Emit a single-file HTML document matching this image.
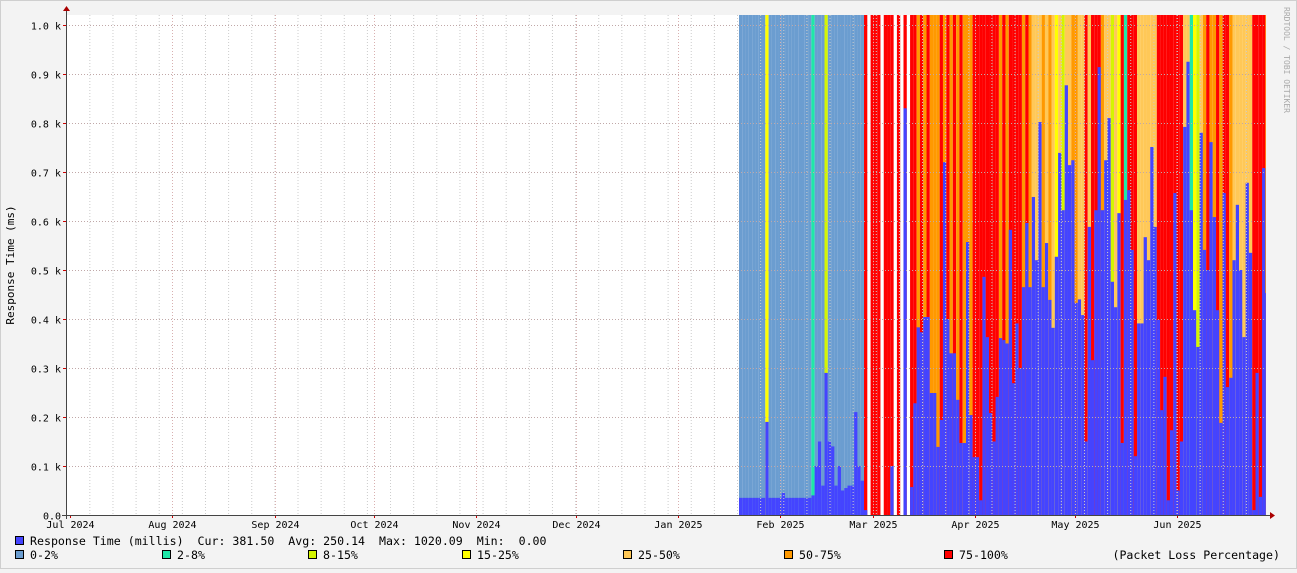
<!DOCTYPE html>
<html><head><meta charset="utf-8"><style>
html,body{margin:0;padding:0;background:#f3f3f3;}
body{width:1297px;height:569px;overflow:hidden;position:relative;font-family:"DejaVu Sans Mono","Liberation Mono",monospace;}
svg text{font-family:"DejaVu Sans Mono","Liberation Mono",monospace;white-space:pre;}
</style></head><body>
<svg id="chart" width="1297" height="569" xmlns="http://www.w3.org/2000/svg">
<rect x="0.5" y="0.5" width="1296" height="568" fill="#f3f3f3" stroke="#cfcfcf"/>
<rect x="66" y="15" width="1200" height="500" fill="#ffffff"/>
<g id="bars"></g>
<g id="grid"></g>
<g id="axes"></g>
<text x="14" y="265" font-size="11" text-anchor="middle" transform="rotate(-90 14 265)" fill="#000">Response Time (ms)</text>
<text x="1284" y="60" font-size="8" text-anchor="middle" transform="rotate(90 1284 60)" fill="#aaa">RRDTOOL / TOBI OETIKER</text>
<g id="legend"></g>
</svg>
<script>
const monthLabels=["Jul 2024","Aug 2024","Sep 2024","Oct 2024","Nov 2024","Dec 2024","Jan 2025","Feb 2025","Mar 2025","Apr 2025","May 2025","Jun 2025"];
const monthStartDays=[0,31,62,92,123,153,184,215,243,274,304,335];
const yTicks=[0,100,200,300,400,500,600,700,800,900,1000];
const yTickLabels=["0.0","0.1 k","0.2 k","0.3 k","0.4 k","0.5 k","0.6 k","0.7 k","0.8 k","0.9 k","1.0 k"];
const dataStartDay=202.45;
const dataDayStep=0.9956;
const responseMs=[35,35,35,35,35,35,35,35,190,35,35,35,35,45,35,35,35,35,35,35,35,35,40,100,150,60,290,150,140,60,100,50,55,60,60,210,100,70,10,0,0,0,0,0,0,0,100,0,0,0,830,0,
57,228,383,373,404,404,249,249,139,194,720,400,330,330,235,147,147,557,204,118,118,30,486,363,208,150,241,361,357,350,582,269,391,300,465,596,465,649,520,802,465,555,439,382,527,739,622,877,714,724,433,440,408,150,588,316,622,914,622,724,810,476,424,616,147,643,663,541,120,391,391,567,520,751,588,398,214,282,30,173,657,50,150,792,925,622,418,343,780,541,500,761,608,418,188,657,261,280,520,633,500,363,678,535,10,290,37,708,453];
const lossCategory=[0,0,0,0,0,0,0,0,3,0,0,0,0,0,0,0,0,0,0,0,0,0,1,0,0,0,2,0,0,0,0,0,0,0,0,0,0,0,6,-1,6,6,6,-1,6,6,6,-1,6,-1,6,-1,
6,6,5,6,5,6,5,5,5,6,5,6,5,6,5,6,5,5,5,6,6,6,6,6,6,6,6,5,6,5,6,6,6,6,5,6,5,4,4,4,5,4,5,4,3,4,2,4,4,5,5,4,4,6,4,6,6,6,5,4,4,2,4,3,6,1,6,6,6,4,4,4,4,4,4,6,6,6,6,6,6,6,6,4,4,1,3,2,4,5,6,5,5,6,5,6,6,5,4,4,4,4,4,4,6,6,6,6,5];
const lossColors=["#6b9dd0","#1ee8a8","#d4f500","#ffff00","#ffc857","#ff9900","#ff0000"];
const lossNames=["0-2%","2-8%","8-15%","15-25%","25-50%","50-75%","75-100%"];
const NS="http://www.w3.org/2000/svg";
const X0=66,X1=1266,Y0=515,Y1=15,XJUL=70,PXD=(1177-70)/335,YMAX=1020.4;
function xScale(day){return XJUL+day*PXD;}
function yScale(v){return Y0-(v/YMAX)*(Y0-Y1);}
function mk(tag,attrs,parent){const e=document.createElementNS(NS,tag);for(const k in attrs)e.setAttribute(k,attrs[k]);parent.appendChild(e);return e;}
const bars=document.getElementById('bars'),grid=document.getElementById('grid'),axes=document.getElementById('axes'),legend=document.getElementById('legend');
for(let i=0;i<responseMs.length;i++){
  const xa=xScale(dataStartDay+i*dataDayStep),xb=Math.min(X1,xScale(dataStartDay+(i+1)*dataDayStep));
  if(xa>=X1)break;
  const c=lossCategory[i];
  if(c>=0){const r=mk('rect',{x:xa,y:Y1,width:xb-xa,height:Y0-Y1,fill:lossColors[c]},bars);
    
    }
  if(responseMs[i]>0){const y=yScale(responseMs[i]);const r=mk('rect',{x:xa,y:y,width:xb-xa,height:Y0-y,fill:"#4444ff"},bars);
    
    }
}
for(let d=6;d<366;d+=7){const x=xScale(d);if(x>X1)break;const l=mk('line',{x1:x,x2:x,y1:Y1,y2:Y0,stroke:"#cccccc","stroke-dasharray":"1,2","stroke-width":1},grid);
  
  }
yTicks.forEach((v,i)=>{const y=Math.round(yScale(v))+0.5;
  if(v>0){const l=mk('line',{x1:X0,x2:X1,y1:y,y2:y,stroke:"#c0a8a8","stroke-dasharray":"1,2"},grid);
    
    }
  const t=mk('text',{x:61,y:y+4,"font-size":10,"text-anchor":"end",fill:"#000"},axes);t.textContent=yTickLabels[i];
  
  
  mk('line',{x1:X0-3,x2:X0,y1:y,y2:y,stroke:"#c00"},axes);
});
monthStartDays.forEach((d,i)=>{const x=Math.round(xScale(d))+0.5;
  if(i>0){const l=mk('line',{x1:x,x2:x,y1:Y1,y2:Y0,stroke:"#d8b0b0","stroke-dasharray":"1,2"},grid);
    
    }
  mk('line',{x1:x,x2:x,y1:Y0,y2:Y0+3,stroke:"#c00"},axes);
  const t=mk('text',{x:x,y:528,"font-size":10,"text-anchor":"middle",fill:"#000"},axes);t.textContent=monthLabels[i];
  
  
});
const xa=mk('line',{x1:62,x2:1270,y1:515.5,y2:515.5,stroke:"#444"},axes);


const ya=mk('line',{x1:66.5,x2:66.5,y1:519,y2:10,stroke:"#444"},axes);


mk('path',{d:"M1270,512 L1275,515.5 L1270,519 Z",fill:"#a00"},axes);
mk('path',{d:"M63,11 L66.5,6 L70,11 Z",fill:"#a00"},axes);
const sw=mk('rect',{x:15.5,y:536.5,width:8,height:8,fill:"#4444ff",stroke:"#000"},legend);


const lt=mk('text',{x:30,y:545,"font-size":11.6,fill:"#000"},legend);
lt.textContent="Response Time (millis)  Cur: 381.50  Avg: 250.14  Max: 1020.09  Min:  0.00";


const legX=[15,162,308,462,623,784,944];
lossNames.forEach((n,i)=>{
  const r=mk('rect',{x:legX[i]+0.5,y:550.5,width:8,height:8,fill:lossColors[i],stroke:"#000"},legend);
  
  
  const t=mk('text',{x:legX[i]+15,y:559,"font-size":11.6,fill:"#000"},legend);t.textContent=n;
  
  
});
const pl=mk('text',{x:1280,y:559,"font-size":11.6,"text-anchor":"end",fill:"#000"},legend);
pl.textContent="(Packet Loss Percentage)";


</script>
</body></html>
